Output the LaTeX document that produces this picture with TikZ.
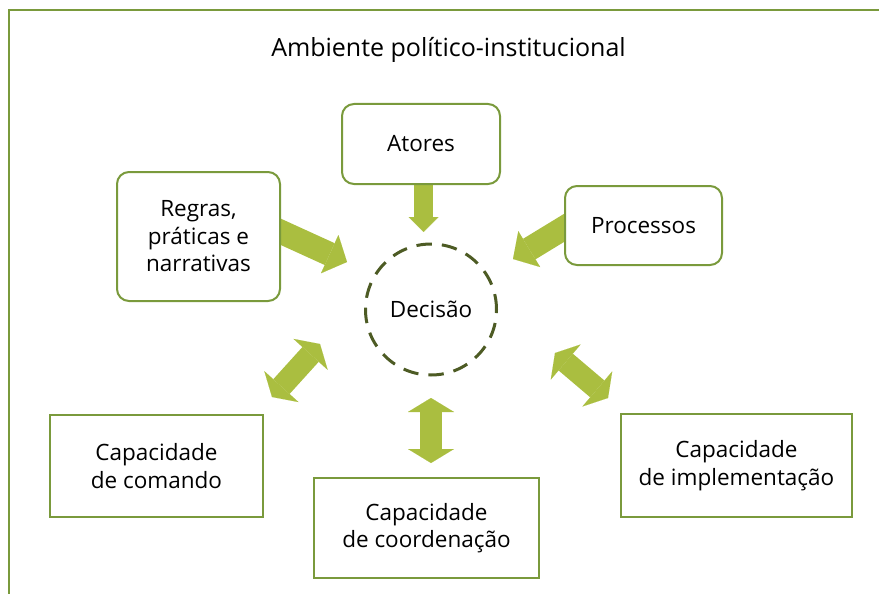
\documentclass[tikz,border=0pt]{standalone}
\usepackage{fontspec}
\setmainfont{Open Sans}
\usetikzlibrary{arrows.meta,backgrounds}
\definecolor{framegreen}{HTML}{7A9A3C}
\definecolor{arrowgreen}{HTML}{AABE40}
\definecolor{circdark}{HTML}{4D5B24}
\begin{document}
\begin{tikzpicture}[x=1pt,y=-1pt, font=\fontsize{22.5}{27.5}\selectfont,
  rbox/.style={draw=framegreen, line width=2pt, rounded corners=12pt, fill=white, align=center, inner sep=0pt},
  sbox/.style={draw=framegreen, line width=2pt, fill=white, align=center, inner sep=0pt},
  fat/.style={draw=arrowgreen, line width=24pt, -{Triangle[length=19pt,width=42pt,line width=0.01pt]}},
  thinfat/.style={draw=arrowgreen, line width=19pt, -{Triangle[length=15pt,width=30pt,line width=0.01pt]}},
  dfat/.style={draw=arrowgreen, line width=22pt, {Triangle[length=14pt,width=46pt,line width=0.01pt]}-{Triangle[length=14pt,width=46pt,line width=0.01pt]}}]
\useasboundingbox (0,0) rectangle (879,594);
\draw[framegreen, line width=2pt] (880,10) -- (9,10) -- (9,595);
\node[font=\fontsize{25}{30}\selectfont] (title) at (448.5,50) {Ambiente político-institucional};
\node[rbox, minimum width=158pt, minimum height=80pt] (atores) at (421,144) {Atores};
\node[rbox, minimum width=163pt, minimum height=129pt] (regras) at (198.5,236.5) {Regras,\\práticas e\\narrativas};
\node[rbox, minimum width=157pt, minimum height=79pt] (processos) at (643.5,225.5) {Processos};
\node[circle, draw=circdark, line width=3pt, dash pattern=on 15.5pt off 10pt, minimum size=131pt, inner sep=0pt] (decisao) at (431,309.5) {Decisão};
\node[sbox, minimum width=213pt, minimum height=102pt] (comando) at (156.5,466) {Capacidade\\de comando};
\node[sbox, minimum width=225pt, minimum height=100pt] (coord) at (426.5,528) {Capacidade\\de coordenação};
\node[sbox, minimum width=231pt, minimum height=103pt] (impl) at (736.5,465.5) {Capacidade\\de implementação};
\coordinate (a1s) at (423.5,170);
\coordinate (a1e) at (423.5,232);
\coordinate (a2s) at (268,226);
\coordinate (a2e) at (347,262);
\coordinate (a3s) at (577,220);
\coordinate (a3e) at (513,259);
\coordinate (d1a) at (272,397);
\coordinate (d1b) at (320,344);
\coordinate (d2a) at (431,398);
\coordinate (d2b) at (431,463);
\coordinate (d3a) at (555,353);
\coordinate (d3b) at (608,398);
\begin{scope}[on background layer]
\draw[thinfat] (a1s) -- (a1e);
\draw[fat] (a2s) -- (a2e);
\draw[fat] (a3s) -- (a3e);
\draw[dfat] (d1a) -- (d1b);
\draw[dfat] (d2a) -- (d2b);
\draw[dfat] (d3a) -- (d3b);
\end{scope}
\end{tikzpicture}
\end{document}
